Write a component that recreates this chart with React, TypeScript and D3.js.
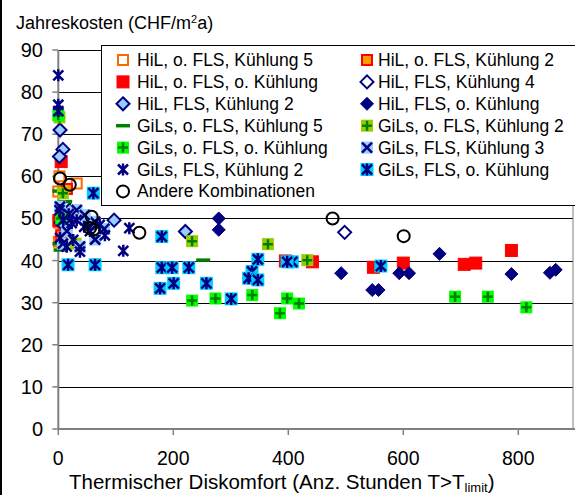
import React from 'react';
import * as d3 from 'd3';

const xTicks = [0, 200, 400, 600, 800];
const yTicks = [0, 10, 20, 30, 40, 50, 60, 70, 80, 90];

const legendNames = [
  'HiL, o. FLS, Kühlung 5',
  'HiL, o. FLS, Kühlung 2',
  'HiL, o. FLS, o. Kühlung',
  'HiL, FLS, Kühlung 4',
  'HiL, FLS, Kühlung 2',
  'HiL, FLS, o. Kühlung',
  'GiLs, o. FLS, Kühlung 5',
  'GiLs, o. FLS, Kühlung 2',
  'GiLs, o. FLS, o. Kühlung',
  'GiLs, FLS, Kühlung 3',
  'GiLs, FLS, Kühlung 2',
  'GiLs, FLS, o. Kühlung',
  'Andere Kombinationen',
];

const hilOK5: [number, number][] = [[2, 60], [32, 58.3], [0, 56.4], [1, 49], [1, 44.5]];
const hilOK2: [number, number][] = [[15, 57], [5, 46]];
const hilOO: [number, number][] = [[5, 63.5], [1, 49.5], [395, 39.9], [442, 39.7], [548, 38.4], [600, 39.4], [706, 39.1], [726, 39.4], [788, 42.4]];
const hilFK4: [number, number][] = [[498, 46.7], [12, 50]];
const hilFK2: [number, number][] = [[3, 71], [8, 66.4], [2, 64.7], [97, 49.6], [221, 46.9], [20, 52], [5, 49]];
const hilFO: [number, number][] = [[279, 50], [279, 47.3], [492, 37], [546, 33], [557, 33], [593, 37], [610, 37], [663, 41.6], [788, 36.8], [855, 37.1], [865, 37.8]];
const gilOK5: [number, number][] = [[2, 56.5], [2, 44], [12, 54], [252, 40.1], [4, 42.5]];
const gilOK2: [number, number][] = [[2, 74], [8, 56], [30, 44], [232.7, 44.6], [364.6, 43.9], [433, 40.1]];
const gilOO: [number, number][] = [[0, 74.5], [5, 50], [232.7, 30.5], [273.3, 31], [337.3, 31.8], [398, 31], [418.6, 29.8], [385.5, 27.5], [690, 31.4], [747, 31.4], [814, 28.9]];
const gilFK3: [number, number][] = [[3, 52.8], [32, 52], [37.7, 43.3], [52, 48.4], [64, 49.2], [46, 50.8], [15, 47], [8, 44], [64, 45], [80, 47.5]];
const gilFK2: [number, number][] = [[0, 84], [0, 77], [0, 75.5], [2, 52], [8.7, 49.6], [23.3, 48.9], [32, 49.6], [3, 45.4], [14.6, 43.3], [37.7, 42.1], [26, 44.9], [18, 51], [45, 48], [55, 47], [72, 48.5], [81, 46], [113, 42.3], [123.5, 47.7]];
const gilFO: [number, number][] = [[61, 56], [180, 45.7], [17, 39], [64, 39], [180, 38.3], [198, 38.3], [227, 38.3], [177, 33.4], [200.6, 34.6], [257.6, 34.6], [300.7, 30.9], [347, 40.3], [337, 37.4], [331, 35.8], [347, 35.4], [407, 39.7], [398, 39.7], [561, 38.7]];
const andere: [number, number][] = [[3, 59.5], [20, 58], [58, 50.4], [55, 47.7], [61, 47.3], [141, 46.6], [477, 50], [600.7, 45.8]];

const seriesData = [hilOK5, hilOK2, hilOO, hilFK4, hilFK2, hilFO, gilOK5, gilOK2, gilOO, gilFK3, gilFK2, gilFO, andere];
const markerTypes = ['sqOpen', 'sqOrange', 'sqRed', 'diaOpen', 'diaLight', 'diaNavy', 'dash', 'plusYG', 'plusG', 'xLB', 'star', 'starCyan', 'circle'];

const NAVY = '#000080';

function Marker({ type, cx, cy }: { type: string; cx: number; cy: number }) {
  const s = 5;
  const dia = `M${cx},${cy - 6.5} L${cx + 6.5},${cy} L${cx},${cy + 6.5} L${cx - 6.5},${cy} Z`;
  const xPath = `M${cx - s},${cy - s} L${cx + s},${cy + s} M${cx - s},${cy + s} L${cx + s},${cy - s}`;
  const plusPath = `M${cx - s},${cy} L${cx + s},${cy} M${cx},${cy - s} L${cx},${cy + s}`;
  const vPath = `M${cx},${cy - 6} L${cx},${cy + 6}`;
  switch (type) {
    case 'sqOpen':
      return <rect x={cx - 5} y={cy - 5} width={10} height={10} fill="#fff" stroke="#FF6600" strokeWidth={2} />;
    case 'sqOrange':
      return <rect x={cx - 5} y={cy - 5} width={10} height={10} fill="#FF9900" stroke="#FF0000" strokeWidth={2} />;
    case 'sqRed':
      return <rect x={cx - 6} y={cy - 6} width={12} height={12} fill="#FF0000" stroke="#FF0000" strokeWidth={1} />;
    case 'diaOpen':
      return <path d={dia} fill="#fff" stroke={NAVY} strokeWidth={2} />;
    case 'diaLight':
      return <path d={dia} fill="#99CCFF" stroke={NAVY} strokeWidth={2} />;
    case 'diaNavy':
      return <path d={dia} fill={NAVY} stroke={NAVY} strokeWidth={1} />;
    case 'dash':
      return <line x1={cx - 7} x2={cx + 7} y1={cy} y2={cy} stroke="#008000" strokeWidth={3.5} />;
    case 'plusYG':
      return (
        <g>
          <rect x={cx - 6} y={cy - 6} width={12} height={12} fill="#99CC00" />
          <path d={plusPath} stroke="#008000" strokeWidth={2.5} fill="none" />
        </g>
      );
    case 'plusG':
      return (
        <g>
          <rect x={cx - 6} y={cy - 6} width={12} height={12} fill="#00FF00" />
          <path d={plusPath} stroke="#008000" strokeWidth={2.5} fill="none" />
        </g>
      );
    case 'xLB':
      return (
        <g>
          <rect x={cx - 6} y={cy - 6} width={12} height={12} fill="#99CCFF" />
          <path d={xPath} stroke={NAVY} strokeWidth={2.5} fill="none" />
        </g>
      );
    case 'star':
      return <path d={xPath + ' ' + vPath} stroke={NAVY} strokeWidth={2.5} fill="none" />;
    case 'starCyan':
      return (
        <g>
          <rect x={cx - 6.5} y={cy - 6.5} width={13} height={13} fill="#00CCFF" />
          <path d={xPath + ' ' + vPath} stroke={NAVY} strokeWidth={2.5} fill="none" />
        </g>
      );
    case 'circle':
      return <circle cx={cx} cy={cy} r={6} fill="none" stroke="#000" strokeWidth={2} />;
    default:
      return null;
  }
}

export default function App() {
  const W = 575;
  const H = 495;
  const x = d3.scaleLinear().domain([0, 900]).range([58.3, 575.8]);
  const y = d3.scaleLinear().domain([0, 90]).range([429, 50]);
  const font = 'Arial, "Liberation Sans", sans-serif';
  const fs = 17.5;
  const tfs = 19.5;
  const legX = [123, 367];
  const legTX = [137, 378];
  const legY0 = 60;
  const legDy = 21.9;

  return (
    <svg width={W} height={H} style={{ position: 'absolute', left: 0, top: 0, background: '#fff' }} fontFamily={font}>
      <rect x={0} y={0} width={W} height={H} fill="#fff" />
      <line x1={1} x2={1} y1={0} y2={H} stroke="#000" strokeWidth={2} />
      {yTicks.filter((t) => t > 0).map((t) => (
        <line key={'g' + t} x1={x(0)} x2={573} y1={Math.round(y(t)) + 0.5} y2={Math.round(y(t)) + 0.5} stroke="#000" strokeWidth={1} />
      ))}
      <line x1={573} x2={573} y1={y(90)} y2={y(0)} stroke="#808080" strokeWidth={1} />
      <line x1={x(0)} x2={x(0)} y1={y(90)} y2={y(0)} stroke="#808080" strokeWidth={2} />
      <line x1={x(0)} x2={575} y1={y(0)} y2={y(0)} stroke="#808080" strokeWidth={2} />
      {yTicks.map((t) => (
        <g key={'yt' + t}>
          <line x1={x(0) - 6} x2={x(0)} y1={y(t)} y2={y(t)} stroke="#808080" strokeWidth={1.5} />
          <text x={43} y={y(t) + 7} textAnchor="end" fontSize={20} fill="#000">{t}</text>
        </g>
      ))}
      {xTicks.map((t) => (
        <g key={'xt' + t}>
          <line x1={x(t)} x2={x(t)} y1={y(0)} y2={y(0) + 6} stroke="#808080" strokeWidth={1.5} />
          <text x={x(t)} y={465} textAnchor="middle" fontSize={tfs} fill="#000">{t}</text>
        </g>
      ))}
      {seriesData.map((data, i) => (
        <g key={'s' + i}>
          {data.map((d, j) => (
            <Marker key={j} type={markerTypes[i]} cx={x(d[0])} cy={y(d[1])} />
          ))}
        </g>
      ))}
      <rect x={101.5} y={45.5} width={480} height={160} fill="#fff" stroke="#000" strokeWidth={1} />
      {legendNames.map((name, i) => {
        const col = i % 2;
        const row = Math.floor(i / 2);
        const ly = legY0 + row * legDy;
        return (
          <g key={'l' + i}>
            <Marker type={markerTypes[i]} cx={legX[col]} cy={ly} />
            <text x={legTX[col]} y={ly + 6} fontSize={fs} fill="#000">{name}</text>
          </g>
        );
      })}
      <text x={16} y={29} fontSize={18} fill="#000">
        Jahreskosten (CHF/m<tspan baselineShift="super" fontSize={11}>2</tspan>a)
      </text>
      <text x={69} y={489} fontSize={20.5} fill="#000">
        Thermischer Diskomfort (Anz. Stunden T&gt;T<tspan dy={3} fontSize={13}>limit</tspan><tspan dy={-3}>)</tspan>
      </text>
    </svg>
  );
}
